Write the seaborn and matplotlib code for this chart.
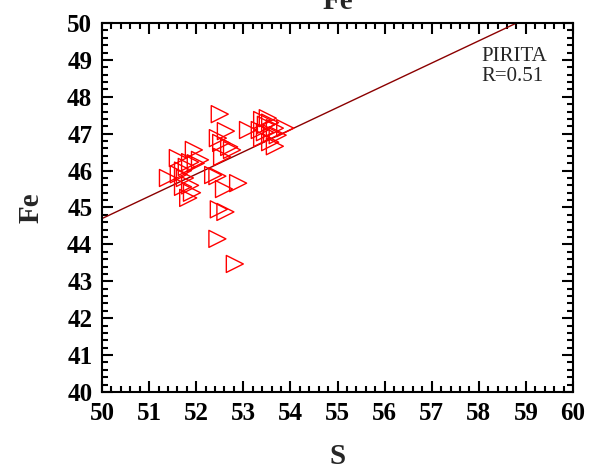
import numpy as np
import pandas as pd
import matplotlib
matplotlib.use("Agg")
import matplotlib.pyplot as plt
import seaborn as sns
from matplotlib.ticker import MultipleLocator

sns.set_style("white")
plt.rcParams['font.family'] = ['Liberation Serif', 'DejaVu Serif']

# ---- data ----
s_vals = [51.40, 51.61, 51.72, 51.76, 51.83, 51.87, 51.95, 51.99, 51.87, 51.63,
          51.91, 52.08, 51.72, 51.80,
          52.50, 52.46, 52.63, 52.53, 52.76, 52.55, 52.36, 52.45, 52.89, 52.59,
          52.48, 52.62, 52.45, 52.82, 52.70,
          53.10, 53.40, 53.48, 53.57, 53.67, 53.89, 53.40, 53.57, 53.67, 53.46,
          53.61, 53.35, 53.52, 53.73]
fe_vals = [45.80, 46.34, 46.00, 45.80, 45.26, 45.60, 46.56, 46.20, 46.23, 45.90,
           45.40, 46.29, 45.56, 46.10,
           47.53, 46.88, 47.07, 46.75, 46.56, 46.37, 45.88, 45.85, 45.66, 45.50,
           44.95, 44.88, 44.15, 43.47, 46.64,
           47.10, 47.37, 47.24, 47.30, 47.15, 47.15, 46.88, 46.77, 46.66, 47.04,
           47.00, 47.10, 47.42, 46.96]
fit_intercept = 44.7   # Fe at S=50
fit_slope = 0.602
fit_s = [50, 60]
label_text = "PIRITA\nR=0.51"

df = pd.DataFrame({"S": s_vals, "Fe": fe_vals})
fit_df = pd.DataFrame({"S": fit_s,
                       "Fe": [fit_intercept + fit_slope * (x - 50) for x in fit_s]})

fig = plt.figure(figsize=(6.08, 4.71), dpi=100)
ax = fig.add_axes([0.1678, 0.1677, 0.9424 - 0.1678, 0.9512 - 0.1677])

sns.lineplot(data=fit_df, x="S", y="Fe", ax=ax, color="#8b0000", linewidth=1.0)
sns.scatterplot(data=df, x="S", y="Fe", ax=ax, marker=">", s=150,
                facecolor="none", edgecolor="red", linewidth=1.0, zorder=3)

ax.set_xlim(50, 60)
ax.set_ylim(40, 50)
ax.xaxis.set_major_locator(MultipleLocator(1))
ax.xaxis.set_minor_locator(MultipleLocator(0.2))
ax.yaxis.set_major_locator(MultipleLocator(1))
ax.yaxis.set_minor_locator(MultipleLocator(0.2))
ax.tick_params(which="both", direction="in", top=True, right=True,
               bottom=True, left=True, width=1.5, colors="black")
ax.tick_params(which="major", length=8, labelsize=18, pad=7)
ax.tick_params(which="minor", length=4)
for lab in ax.get_xticklabels() + ax.get_yticklabels():
    lab.set_fontweight("bold")
for sp in ax.spines.values():
    sp.set_color("black")
    sp.set_linewidth(1.5)

ax.set_xlabel("S", fontsize=21, fontweight="bold", labelpad=13)
ax.set_ylabel("Fe", fontsize=21, fontweight="bold", labelpad=16)
ax.set_title("Fe", fontsize=21, fontweight="bold", pad=10)

ax.text(58.05, 49.35, label_text, fontsize=15, va="top", ha="left",
        linespacing=1.05)

fig.savefig("out.png", dpi=100)
